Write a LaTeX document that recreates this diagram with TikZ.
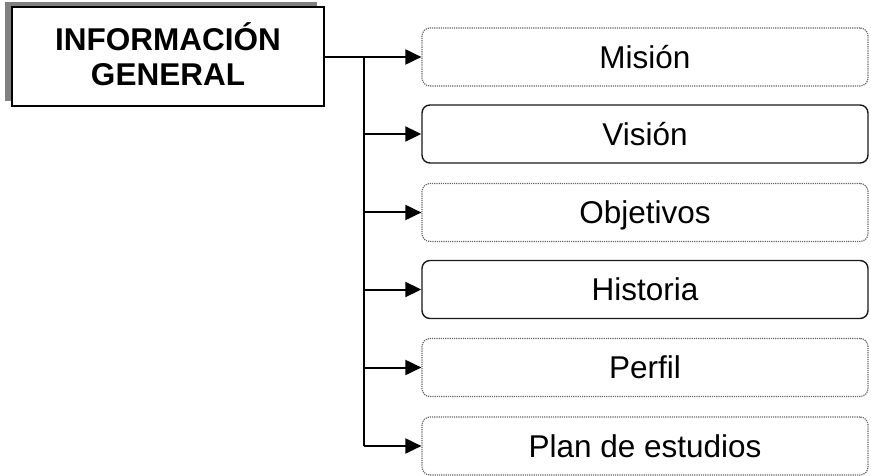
\documentclass[tikz,border=0pt]{standalone}
\usepackage{fontspec}
\setmainfont{Liberation Sans}
\usetikzlibrary{arrows.meta,shadows}
\begin{document}
\begin{tikzpicture}[x=1pt,y=-1pt,
  every node/.style={font=\fontsize{31.5}{35}\selectfont},
  mainbox/.style={draw=black, line width=2pt, fill=white, minimum width=312pt, minimum height=99pt,
    align=center, font=\fontsize{31.5}{35}\selectfont\bfseries, text height=57.5pt, text depth=0pt,
    general shadow={shadow xshift=-7pt, shadow yshift=5pt, fill=black!50}},
  itembox/.style={rounded corners=8pt, minimum width=446pt, minimum height=58pt, text height=22.5pt, text depth=0pt, inner sep=0pt},
  lightbox/.style={itembox, draw=black!60, densely dotted, line width=1.2pt},
  darkbox/.style={itembox, draw=black!90, line width=1.4pt},
  conn/.style={line width=2pt},
  arr/.style={conn, -{Triangle[length=16pt,width=15pt]}}
]
\useasboundingbox (0,0) rectangle (871,476);
\node[mainbox] (gen) at (168,57) {INFORMACIÓN\\GENERAL};
\node[lightbox] (b1) at (645,57) {Misión};
\node[darkbox]  (b2) at (645,134) {Visión};
\node[lightbox] (b3) at (645,212.5) {Objetivos};
\node[darkbox]  (b4) at (645,289.5) {Historia};
\node[lightbox] (b5) at (645,367.5) {Perfil};
\node[lightbox] (b6) at (645,446) {Plan de estudios};
\coordinate (j1) at (364,57);
\coordinate (j2) at (364,134);
\coordinate (j3) at (364,212.5);
\coordinate (j4) at (364,289.5);
\coordinate (j5) at (364,367.5);
\coordinate (j6) at (364,446);
\draw[conn] (gen.east) -- (j1);
\draw[conn] (j1) -- (j6);
\draw[arr] (j1) -- (b1.west);
\draw[arr] (j2) -- (b2.west);
\draw[arr] (j3) -- (b3.west);
\draw[arr] (j4) -- (b4.west);
\draw[arr] (j5) -- (b5.west);
\draw[arr] (j6) -- (b6.west);
\end{tikzpicture}
\end{document}
